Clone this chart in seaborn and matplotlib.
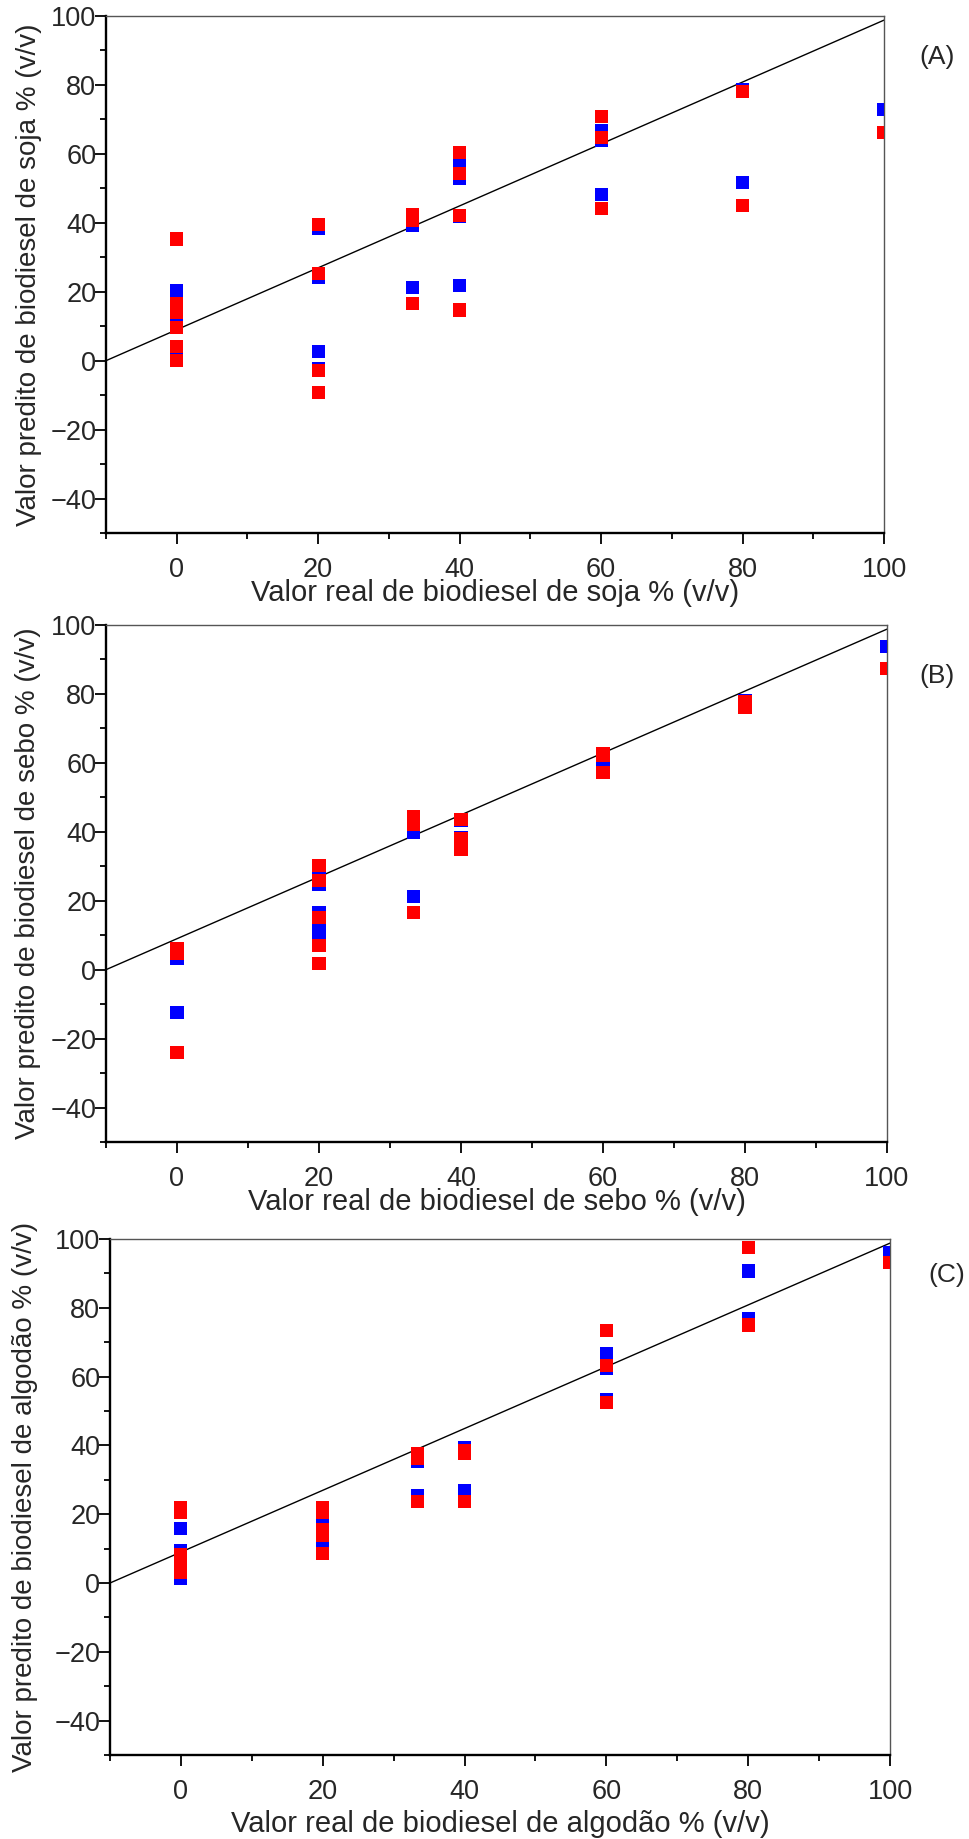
import numpy as np
import pandas as pd
import matplotlib
matplotlib.use('Agg')
import matplotlib.pyplot as plt
import seaborn as sns
from matplotlib.ticker import MultipleLocator

# (A) soja
a_blue_x = [0, 0, 0, 0, 20, 20, 20, 20, 33.3, 33.3, 40, 40, 40, 40, 60, 60, 60, 80, 80, 100]
a_blue_y = [20.3, 10.3, 4.2, 2.0, 38.4, 24.1, 2.8, -2.4, 39.1, 21.3, 58.0, 52.9, 41.9, 21.8, 66.9, 64.0, 48.1, 78.7, 51.6, 73.0]
a_red_x = [0, 0, 0, 0, 0, 0, 20, 20, 20, 20, 33.3, 33.3, 33.3, 40, 40, 40, 40, 60, 60, 60, 80, 80, 100]
a_red_y = [35.3, 16.6, 13.9, 9.7, 4.0, 0.0, 39.4, 25.3, -2.9, -9.2, 42.5, 40.6, 16.6, 60.3, 54.4, 42.2, 14.7, 70.9, 64.8, 44.1, 78.1, 45.1, 66.1]

# (B) sebo
b_blue_x = [0, 0, 20, 20, 20, 20, 20, 33.3, 33.3, 40, 40, 60, 60, 80, 100]
b_blue_y = [3.3, -12.4, 28.5, 24.6, 16.5, 11.7, 10.5, 39.8, 21.2, 43.4, 38.4, 60.8, 59.5, 78.2, 93.9]
b_red_x = [0, 0, 0, 20, 20, 20, 20, 20, 33.3, 33.3, 33.3, 40, 40, 40, 40, 60, 60, 60, 80, 80, 100]
b_red_y = [6.2, 4.8, -24.1, 30.2, 26.0, 15.2, 6.9, 1.7, 44.4, 42.0, 16.6, 43.7, 38.1, 36.6, 34.9, 62.8, 62.0, 57.2, 77.8, 76.1, 87.5]

# (C) algodao
c_blue_x = [0, 0, 0, 20, 20, 33.3, 33.3, 40, 40, 60, 60, 60, 80, 80, 100]
c_blue_y = [15.9, 9.5, 1.2, 17.9, 11.0, 35.3, 25.3, 39.3, 27.0, 66.8, 62.4, 53.4, 90.7, 77.0, 96.0]
c_red_x = [0, 0, 0, 0, 0, 0, 20, 20, 20, 20, 20, 33.3, 33.3, 33.3, 40, 40, 40, 60, 60, 60, 80, 80, 100]
c_red_y = [21.9, 20.4, 8.3, 6.4, 4.9, 3.1, 21.9, 20.4, 15.6, 13.9, 8.7, 37.5, 36.2, 23.8, 38.4, 37.6, 23.6, 73.3, 63.2, 52.4, 97.5, 75.0, 93.2]

# reference line
line_x = [-10, 100]
line_y = [0, 98.8]

x_labels = ['Valor real de biodiesel de soja % (v/v)',
            'Valor real de biodiesel de sebo % (v/v)',
            'Valor real de biodiesel de algodão % (v/v)']
y_labels = ['Valor predito de biodiesel de soja % (v/v)',
            'Valor predito de biodiesel de sebo % (v/v)',
            'Valor predito de biodiesel de algodão % (v/v)']
tags = ['(A)', '(B)', '(C)']

sns.set_style('ticks')
plt.rcParams['font.family'] = ['Liberation Sans', 'DejaVu Sans']

W, H = 969, 1839
fig = plt.figure(figsize=(W / 100, H / 100), dpi=100)

# left, top, right, bottom in pixels
boxes = [(106, 16, 884, 533), (106, 625, 887, 1142), (110, 1239, 890, 1755)]
xlab_y = [-0.116, -0.116, -0.134]
ylab_x = [-0.099, -0.100, -0.109]
tag_pos = [(937, 57), (937, 676), (947, 1275)]

panels = [(a_blue_x, a_blue_y, a_red_x, a_red_y),
          (b_blue_x, b_blue_y, b_red_x, b_red_y),
          (c_blue_x, c_blue_y, c_red_x, c_red_y)]

for i, (bx, by, rx, ry) in enumerate(panels):
    l, t, r, b = boxes[i]
    ax = fig.add_axes([l / W, 1 - b / H, (r - l) / W, (b - t) / H])
    df = pd.concat([
        pd.DataFrame({'x': bx, 'y': by, 's': 'b'}),
        pd.DataFrame({'x': rx, 'y': ry, 's': 'r'}),
    ], ignore_index=True)
    sns.lineplot(x=line_x, y=line_y, ax=ax, color='black', linewidth=1.0)
    sns.scatterplot(data=df, x='x', y='y', hue='s', palette={'b': '#0000ff', 'r': '#ff0000'},
                    marker='s', s=88, linewidth=0, legend=False, ax=ax, zorder=3)
    ax.set_xlim(-10, 100)
    ax.set_ylim(-50, 100)
    ax.xaxis.set_major_locator(MultipleLocator(20))
    ax.xaxis.set_minor_locator(MultipleLocator(10))
    ax.yaxis.set_major_locator(MultipleLocator(20))
    ax.yaxis.set_minor_locator(MultipleLocator(10))
    ax.tick_params(which='major', direction='out', length=8, width=1.3, labelsize=19.5, color='black')
    ax.tick_params(which='minor', direction='out', length=4.5, width=1.3, color='black')
    ax.tick_params(axis='x', which='major', pad=9)
    ax.tick_params(axis='y', which='major', pad=-1)
    for side in ['left', 'bottom']:
        ax.spines[side].set_linewidth(1.7)
        ax.spines[side].set_color('black')
    for side in ['top', 'right']:
        ax.spines[side].set_linewidth(1.0)
        ax.spines[side].set_color('#555555')
    ax.set_xlabel(x_labels[i], fontsize=21, va='center')
    ax.set_ylabel(y_labels[i], fontsize=20, va='center')
    ax.xaxis.set_label_coords(0.5, xlab_y[i])
    ax.yaxis.set_label_coords(ylab_x[i], 0.5)
    fig.text(tag_pos[i][0] / W, 1 - tag_pos[i][1] / H, tags[i], fontsize=19,
             ha='center', va='center')

fig.savefig('out.png', dpi=100, facecolor='white')
